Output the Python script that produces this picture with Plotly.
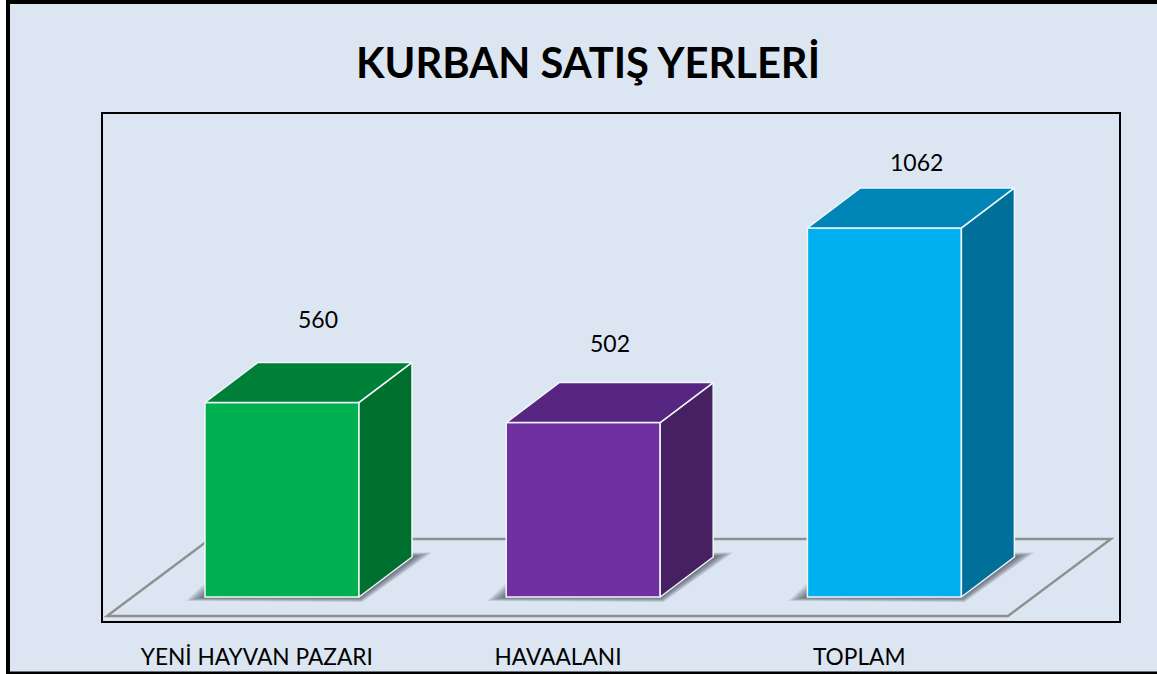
import plotly.graph_objects as go

# ---------- data ----------
categories = ["YENİ HAYVAN PAZARI", "HAVAALANI", "TOPLAM"]
values = [560, 502, 1062]
front_colors = ["#00B050", "#7030A0", "#00B0F0"]
side_colors = ["#00702F", "#462061", "#006F9A"]
top_colors = ["#007F39", "#572680", "#0086B6"]
label_x_shift = [36, 27, 32]
label_y_shift = [83, 80, 66]

# ---------- geometry ----------
W, H = 1157, 674
L, R, T, B = 103, 1119, 114, 621
FLOOR_LEFT_PX = 101
BASE_PX = 597
FIRST_BAR_PX = 282
PX_X = 301.2
PX_Y = 0.3475
BAR_W = 154 / PX_X
DX = 53 / PX_X
DY = 40 / PX_Y
FONT = "Lato"


def ux(p):
    return p / PX_X


def uy(p):
    return p / PX_Y


x_range = [(L - FIRST_BAR_PX) / PX_X, (R - FIRST_BAR_PX) / PX_X]
y_range = [(BASE_PX - B) / PX_Y, (BASE_PX - T) / PX_Y]
xs = list(range(len(values)))


def path(points):
    return "M " + " L ".join(f"{a},{b}" for a, b in points) + " Z"


fig = go.Figure()
shapes = []

# outer canvas
shapes.append(dict(type="rect", xref="paper", yref="paper", x0=8 / W, x1=1.01, y0=1 - 673.5 / H, y1=1 - 2 / H,
                   fillcolor="#DCE6F2", line=dict(color="black", width=4), layer="below"))

# floor
xa = (FLOOR_LEFT_PX - FIRST_BAR_PX) / PX_X
floor = [
    (xa + ux(6), uy(-19)),
    (xa + ux(907), uy(-19)),
    (xa + ux(1010), uy(58)),
    (xa + ux(109), uy(58)),
]
shapes.append(dict(type="path", xref="x", yref="y", path=path(floor),
                   line=dict(color="#8F8F8F", width=2.4), fillcolor="rgba(0,0,0,0)", layer="below"))

# soft bar shadows on the floor
for i in xs:
    xl, xr = i - BAR_W / 2, i + BAR_W / 2
    for s in (1.1, 0.95, 0.8, 0.65, 0.5, 0.35, 0.2):
        poly = [
            (xl - ux(17 * s), uy(-3.5 * s)),
            (xr + ux(3 * s), uy(-4.5 * s)),
            (xr + DX + ux(18 * s), DY + uy(4 * s)),
            (xl + DX - ux(18 * s), DY + uy(4 * s)),
        ]
        shapes.append(dict(type="path", xref="x", yref="y", path=path(poly),
                           line=dict(width=0), fillcolor="rgba(60,66,80,0.14)", layer="below"))

# front faces
fig.add_trace(go.Bar(x=xs, y=values, width=BAR_W, marker=dict(color=front_colors, line=dict(color="#F0F6FA", width=1.5)),
                     hoverinfo="skip", showlegend=False))

# side and top faces
for i, v in zip(xs, values):
    xl, xr = i - BAR_W / 2, i + BAR_W / 2
    fig.add_trace(go.Scatter(x=[xr, xr + DX, xr + DX, xr, xr], y=[0, DY, v + DY, v, 0],
                             mode="lines", fill="toself", fillcolor=side_colors[i],
                             line=dict(color="#F0F6FA", width=1.5), hoverinfo="skip", showlegend=False))
    fig.add_trace(go.Scatter(x=[xl, xr, xr + DX, xl + DX, xl], y=[v, v, v + DY, v + DY, v],
                             mode="lines", fill="toself", fillcolor=top_colors[i],
                             line=dict(color="#F0F6FA", width=1.5), hoverinfo="skip", showlegend=False))

annotations = [
    dict(x=i + ux(label_x_shift[i]), y=v + uy(label_y_shift[i]), xref="x", yref="y", text=str(v), showarrow=False,
         font=dict(family=FONT, size=23, color="black"), xanchor="center", yanchor="middle")
    for i, v in zip(xs, values)
]

fig.update_layout(
    width=W, height=H, margin=dict(l=0, r=0, t=0, b=0), autosize=False,
    paper_bgcolor="white", plot_bgcolor="rgba(0,0,0,0)",
    title=dict(text="<b>KURBAN SATIŞ YERLERİ</b>", x=588 / W, xanchor="center", xref="paper",
               y=1 - 63 / H, yanchor="middle", yref="paper", font=dict(family=FONT, size=41.7, color="black")),
    xaxis=dict(domain=[L / W, R / W], range=x_range, tickmode="array",
               tickvals=[i - ux(25.2) for i in xs], ticktext=categories,
               showgrid=False, zeroline=False, showline=True, mirror=True, linecolor="black", linewidth=1.5,
               ticks="outside", ticklen=15, tickcolor="rgba(0,0,0,0)",
               tickfont=dict(family=FONT, size=22.7, color="black")),
    yaxis=dict(domain=[1 - B / H, 1 - T / H], range=y_range, showticklabels=False, showgrid=False, zeroline=False,
               showline=True, mirror=True, linecolor="black", linewidth=1.5, ticks=""),
    shapes=shapes, annotations=annotations, showlegend=False,
)

fig.write_html("out.html", config=dict(displayModeBar=False),
               post_script="document.body.style.margin='0';document.body.style.overflow='hidden';")
